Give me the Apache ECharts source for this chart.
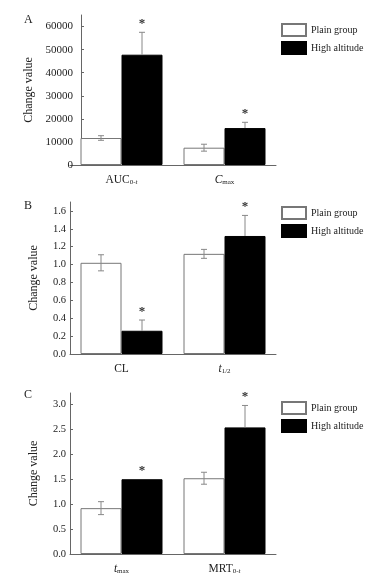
<!DOCTYPE html>
<html>
<head>
<meta charset="utf-8">
<script src="https://cdn.jsdelivr.net/npm/echarts@6/dist/echarts.min.js"></script>
<style>
  html, body { margin: 0; padding: 0; background: #fff; }
  #chart { width: 387px; height: 577px; }
</style>
</head>
<body>
<div id="chart"></div>
<script>
// panel A
const catsA = ['AUC0-t', 'Cmax'];
const plainA = [11700, 7500];
const plainErrA = [1000, 1500];
const highA = [47800, 16000];
const highErrA = [9700, 2500];
const sigA = [1, 1];
const ticksA = { min: 0, max: 65000, interval: 10000 };

// panel B
const catsB = ['CL', 't1/2'];
const plainB = [1.02, 1.12];
const plainErrB = [0.09, 0.05];
const highB = [0.26, 1.32];
const highErrB = [0.12, 0.23];
const sigB = [1, 1];
const ticksB = { min: 0, max: 1.7, interval: 0.2 };

// panel C
const catsC = ['tmax', 'MRT0-t'];
const plainC = [0.92, 1.52];
const plainErrC = [0.13, 0.12];
const highC = [1.50, 2.54];
const highErrC = [0, 0.44];
const sigC = [1, 1];
const ticksC = { min: 0, max: 3.23, interval: 0.5 };

const labelRich = {
  'AUC0-t': '{m|AUC}{s|0-}{si|t}',
  'Cmax': '{i|C}{s|max}',
  'CL': '{m|CL}',
  't1/2': '{i|t}{s|1/2}',
  'tmax': '{i|t}{s|max}',
  'MRT0-t': '{m|MRT}{s|0-}{si|t}'
};

const serif = 'Liberation Serif';
const axisGray = '#666';
const barW = 41;

const panels = [
  { letter: 'A', cats: catsA, plain: plainA, plainErr: plainErrA, high: highA, highErr: highErrA, sig: sigA, ticks: ticksA,
    top: 15, height: 150, yOffset: -11, nameGap: 46, labelMargin: 8, labelSize: 11, digits: 0, legendTop: 18, letterTop: 9 },
  { letter: 'B', cats: catsB, plain: plainB, plainErr: plainErrB, high: highB, highErr: highErrB, sig: sigB, ticks: ticksB,
    top: 202, height: 152, yOffset: 0, nameGap: 30, labelMargin: 4, labelSize: 10.5, digits: 1, legendTop: 201, letterTop: 195 },
  { letter: 'C', cats: catsC, plain: plainC, plainErr: plainErrC, high: highC, highErr: highErrC, sig: sigC, ticks: ticksC,
    top: 393, height: 161, yOffset: 0, nameGap: 30, labelMargin: 4, labelSize: 10.5, digits: 1, legendTop: 396, letterTop: 384 }
];

const option = {
  animation: false,
  backgroundColor: '#fff',
  title: [], grid: [], xAxis: [], yAxis: [], legend: [], series: []
};

function errRender(params, api) {
  const ci = api.value(0), mean = api.value(1), err = api.value(2), side = api.value(3), sig = api.value(4);
  const c = api.coord([ci, mean]);
  const x = c[0] + side * barW / 2;
  const top = api.coord([ci, mean + err])[1];
  const bot = api.coord([ci, mean - err])[1];
  const st = { stroke: '#888', lineWidth: 1 };
  const children = [];
  if (err > 0) {
    children.push({ type: 'line', shape: { x1: x, y1: top, x2: x, y2: side < 0 ? bot : c[1] }, style: st });
    children.push({ type: 'line', shape: { x1: x - 3, y1: top, x2: x + 3, y2: top }, style: st });
    if (side < 0) children.push({ type: 'line', shape: { x1: x - 3, y1: bot, x2: x + 3, y2: bot }, style: st });
  }
  if (sig) {
    children.push({ type: 'text', style: { text: '*', x: x, y: top - 2, align: 'center', verticalAlign: 'bottom',
      font: 'bold 13px "' + serif + '"', fill: '#333' } });
  }
  return { type: 'group', children: children };
}

panels.forEach((p, i) => {
  option.title.push({ text: p.letter, left: 19, top: p.letterTop,
    textStyle: { fontFamily: serif, fontSize: 12, fontWeight: 'normal', color: '#222' } });
  option.grid.push({ left: 70, width: 206, top: p.top, height: p.height });
  option.xAxis.push({
    type: 'category', gridIndex: i, data: p.cats,
    axisLine: { lineStyle: { color: axisGray } },
    axisTick: { show: false },
    axisLabel: {
      interval: 0,
      margin: 9,
      formatter: v => labelRich[v],
      rich: {
        m: { fontFamily: serif, fontSize: 11.5, color: '#222' },
        i: { fontFamily: serif, fontSize: 11.5, fontStyle: 'italic', color: '#222' },
        s: { fontFamily: serif, fontSize: 7, color: '#222', padding: [5, 0, 0, 0] },
        si: { fontFamily: serif, fontSize: 7, fontStyle: 'italic', color: '#222', padding: [5, 0, 0, 0] }
      }
    }
  });
  option.yAxis.push({
    type: 'value', gridIndex: i, min: p.ticks.min, max: p.ticks.max, interval: p.ticks.interval,
    offset: p.yOffset,
    name: 'Change value', nameLocation: 'middle', nameGap: p.nameGap,
    nameTextStyle: { fontFamily: serif, fontSize: 12, color: '#222' },
    axisLine: { show: true, lineStyle: { color: axisGray } },
    axisTick: { show: true, inside: true, length: 3, lineStyle: { color: axisGray } },
    splitLine: { show: false },
    axisLabel: { showMaxLabel: false, margin: p.labelMargin, fontFamily: serif, fontSize: p.labelSize, color: '#222',
      formatter: v => v.toFixed(p.digits) }
  });
  option.legend.push({
    data: ['Plain group', 'High altitude'], orient: 'vertical', left: 276, top: p.legendTop,
    itemWidth: 24, itemHeight: 12, itemGap: 4, icon: 'rect', selectedMode: false,
    textStyle: { fontFamily: serif, fontSize: 10, color: '#222' }
  });
  option.series.push({
    name: 'Plain group', type: 'bar', xAxisIndex: i, yAxisIndex: i, data: p.plain,
    barWidth: barW, barGap: '0%',
    itemStyle: { color: '#fff', borderColor: '#777', borderWidth: 1 }
  });
  option.series.push({
    name: 'High altitude', type: 'bar', xAxisIndex: i, yAxisIndex: i, data: p.high,
    barWidth: barW, barGap: '0%',
    itemStyle: { color: '#000', borderColor: '#000', borderWidth: 1 }
  });
  const errData = [];
  p.cats.forEach((c, k) => {
    errData.push([k, p.plain[k], p.plainErr[k], -1, 0]);
    errData.push([k, p.high[k], p.highErr[k], 1, p.sig[k]]);
  });
  option.series.push({
    type: 'custom', xAxisIndex: i, yAxisIndex: i, data: errData, z: 5,
    renderItem: errRender, encode: { x: 0, y: 1 }
  });
});

const chart = echarts.init(document.getElementById('chart'));
chart.setOption(option);
</script>
</body>
</html>
